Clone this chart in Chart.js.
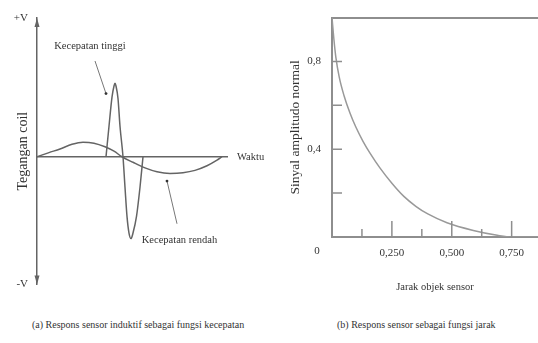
<!DOCTYPE html>
<html>
<head>
<meta charset="utf-8">
<script src="https://cdn.jsdelivr.net/npm/chart.js@4.4.1/dist/chart.umd.min.js"></script>
<style>
  body {
    margin: 0;
    width: 538px;
    height: 343px;
    position: relative;
    overflow: hidden;
    background: #fff;
    font-family: "Liberation Serif", serif;
    color: #333;
  }
  .box { position: absolute; top: 0; height: 300px; }
  #boxA { left: 0; width: 270px; }
  #boxB { left: 270px; width: 268px; }
  .caption { position: absolute; top: 319px; font-size: 10px; white-space: nowrap; }
  #capA { left: 32px; }
  #capB { left: 337px; }
</style>
</head>
<body>
<div class="box" id="boxA"><canvas id="chartA"></canvas></div>
<div class="box" id="boxB"><canvas id="chartB"></canvas></div>
<div class="caption" id="capA">(a) Respons sensor induktif sebagai fungsi kecepatan</div>
<div class="caption" id="capB">(b) Respons sensor sebagai fungsi jarak</div>

<script>
"use strict";

// (a) coil voltage against time, two object speeds
const lowTime = [0, 12, 23, 35, 46, 57, 68, 77, 85, 96, 108, 120, 133, 146, 158, 170, 180, 185];
const lowVolt = [0, 0.03, 0.056, 0.09, 0.105, 0.098, 0.072, 0.04, 0, -0.04, -0.08, -0.108, -0.12, -0.115, -0.098, -0.065, -0.025, 0];
const highTime = [69, 72, 75, 77, 78, 79, 81, 83, 86, 88, 90, 92, 94, 96, 99.5, 103, 106];
const highVolt = [0, 0.22, 0.43, 0.51, 0.53, 0.51, 0.42, 0.22, 0, -0.22, -0.43, -0.55, -0.59, -0.55, -0.43, -0.22, 0];
const voltLabels = ["-V", "+V"];

// (b) normalised amplitude against object distance
const distance = [0, 0.008, 0.016, 0.03, 0.05, 0.075, 0.1, 0.13, 0.16, 0.2, 0.25, 0.3, 0.35, 0.4, 0.48, 0.59, 0.69, 0.75, 0.86];
const amplitude = [1.0, 0.9, 0.82, 0.73, 0.645, 0.565, 0.5, 0.435, 0.38, 0.315, 0.245, 0.185, 0.14, 0.105, 0.065, 0.03, 0.008, 0, 0];
const distTicks = [0, 0.125, 0.25, 0.375, 0.5, 0.625, 0.75];
const distLabels = ["0", "", "0,250", "", "0,500", "", "0,750"];
const ampTicks = [0.2, 0.4, 0.6, 0.8];
const ampLabels = ["", "0,4", "", "0,8"];

const serif = "'Liberation Serif', 'Times New Roman', serif";
const inkA = "#646464";
const inkB = "#8e8e8e";
const textColor = "#333";

function callout(ctx, x, y, text, at, from, to) {
  ctx.textAlign = "center";
  ctx.textBaseline = "middle";
  ctx.fillText(text, x.getPixelForValue(at[0]), y.getPixelForValue(at[1]));
  const x2 = x.getPixelForValue(to[0]);
  const y2 = y.getPixelForValue(to[1]);
  ctx.beginPath();
  ctx.moveTo(x.getPixelForValue(from[0]), y.getPixelForValue(from[1]));
  ctx.lineTo(x2, y2);
  ctx.stroke();
  ctx.beginPath();
  ctx.arc(x2, y2, 1.4, 0, Math.PI * 2);
  ctx.fill();
}

//arrows, axis name and callouts for chart (a)
const coilExtras = {
  id: "coilExtras",
  afterDraw(chart) {
    const { ctx, chartArea: a, scales: { x, y } } = chart;
    ctx.save();
    ctx.fillStyle = inkA;
    [[a.top, -1], [a.bottom, 1]].forEach(([tip, dir]) => {
      ctx.beginPath();
      ctx.moveTo(a.left, tip);
      ctx.lineTo(a.left - 2.5, tip - dir * 9);
      ctx.lineTo(a.left + 2.5, tip - dir * 9);
      ctx.closePath();
      ctx.fill();
    });

    ctx.fillStyle = textColor;
    ctx.strokeStyle = "#777";
    ctx.lineWidth = 1;
    ctx.font = "10.5px " + serif;
    ctx.textAlign = "left";
    ctx.textBaseline = "middle";
    ctx.fillText("Waktu", a.right + 10, y.getPixelForValue(0));

    callout(ctx, x, y, "Kecepatan tinggi", [53, 0.8], [58, 0.69], [69, 0.455]);
    callout(ctx, x, y, "Kecepatan rendah", [142.5, -0.6], [140, -0.483], [130, -0.175]);
    ctx.restore();
  },
};

// inward tick marks for chart (b)
const distanceExtras = {
  id: "distanceExtras",
  afterDraw(chart) {
    const { ctx, scales: { x, y } } = chart;
    ctx.save();
    ctx.strokeStyle = inkB;
    ctx.lineWidth = 1.5;
    ctx.beginPath();
    x.ticks.forEach((t, i) => {
      if (t.value === 0) return;
      const px = x.getPixelForValue(t.value);
      const len = distLabels[i] ? 16 : 8;
      ctx.moveTo(px, x.top);
      ctx.lineTo(px, x.top - len);
    });
    y.ticks.forEach((t) => {
      const py = y.getPixelForValue(t.value);
      ctx.moveTo(y.right, py);
      ctx.lineTo(y.right + 10, py);
    });
    ctx.stroke();

    // origin label sits left of the axis in the original
    ctx.fillStyle = textColor;
    ctx.font = "11px " + serif;
    ctx.textAlign = "center";
    ctx.textBaseline = "top";
    ctx.fillText(distLabels[0], x.getPixelForValue(0) - 15, x.top + 9);
    ctx.restore();
  },
};

// Chart (a)
new Chart(document.getElementById("chartA"), {
  type: "line",
  data: {
    datasets: [
      {
        label: "Kecepatan tinggi",
        data: highTime.map((t, i) => ({ x: t, y: highVolt[i] })),
        borderColor: inkA,
        borderWidth: 1.5,
        cubicInterpolationMode: "monotone",
        pointRadius: 0,
        fill: false,
      },
      {
        label: "Kecepatan rendah",
        data: lowTime.map((t, i) => ({ x: t, y: lowVolt[i] })),
        borderColor: inkA,
        borderWidth: 1.5,
        cubicInterpolationMode: "monotone",
        pointRadius: 0,
        fill: false,
      },
    ],
  },
  options: {
    responsive: true,
    maintainAspectRatio: false,
    animation: false,
    layout: { padding: { top: 18, bottom: 8, right: 43, left: 0 } },
    plugins: {
      legend: { display: false },
      tooltip: { enabled: false },
    },
    scales: {
      x: {
        type: "linear",
        min: 0,
        max: 190,
        position: { y: 0 },
        grid: { display: false, drawTicks: false },
        ticks: { display: false },
        border: { color: inkA, width: 1.5 },
        afterFit: (s) => {
          s.height = 0;
        },
      },
      y: {
        min: -0.92,
        max: 1,
        grid: { display: false, drawTicks: false },
        border: { color: inkA, width: 1.5 },
        afterBuildTicks: (s) => {
          s.ticks = [{ value: s.min }, { value: s.max }];
        },
        ticks: {
          callback: (v, i) => voltLabels[i],
          color: textColor,
          font: { family: serif, size: 11 },
          padding: 9,
        },
        title: {
          display: true,
          text: "Tegangan coil",
          color: textColor,
          font: { family: serif, size: 14 },
          padding: { top: 14.6, bottom: 0 },
        },
        afterFit: (s) => {
          s.width = 37;
        },
      },
    },
  },
  plugins: [coilExtras],
});

// Chart (b)
new Chart(document.getElementById("chartB"), {
  type: "line",
  data: {
    datasets: [
      {
        label: "Sinyal amplitudo normal",
        data: distance.map((d, i) => ({ x: d, y: amplitude[i] })),
        borderColor: "#999",
        borderWidth: 1.5,
        cubicInterpolationMode: "monotone",
        pointRadius: 0,
        fill: false,
      },
    ],
  },
  options: {
    responsive: true,
    maintainAspectRatio: false,
    animation: false,
    layout: { padding: 0 },
    plugins: {
      legend: { display: false },
      tooltip: { enabled: false },
    },
    scales: {
      x: {
        type: "linear",
        position: "bottom",
        min: 0,
        max: 0.86,
        afterBuildTicks: (s) => {
          s.ticks = distTicks.map((v) => ({ value: v }));
        },
        grid: { display: false, drawTicks: false },
        border: { color: inkB, width: 2 },
        ticks: {
          callback: (v, i) => (i === 0 ? "" : distLabels[i]),
          autoSkip: false,
          maxRotation: 0,
          color: textColor,
          font: { family: serif, size: 11 },
          padding: 10,
        },
        title: {
          display: true,
          text: "Jarak objek sensor",
          color: textColor,
          font: { family: serif, size: 10.5 },
          padding: { top: 0, bottom: 6 },
        },
        afterFit: (s) => {
          s.height = 63;
        },
      },
      xTop: {
        type: "linear",
        axis: "x",
        position: "top",
        min: 0,
        max: 0.86,
        grid: { display: false, drawTicks: false },
        ticks: { display: false },
        border: { color: inkB, width: 2 },
        afterFit: (s) => {
          s.height = 17;
        },
      },
      y: {
        min: 0,
        max: 1,
        afterBuildTicks: (s) => {
          s.ticks = ampTicks.map((v) => ({ value: v }));
        },
        grid: { display: false, drawTicks: false },
        border: { color: inkB, width: 2 },
        ticks: {
          callback: (v, i) => ampLabels[i],
          color: textColor,
          font: { family: serif, size: 11 },
          padding: 11,
        },
        title: {
          display: true,
          text: "Sinyal amplitudo normal",
          color: textColor,
          font: { family: serif, size: 13.5 },
          padding: { top: 17, bottom: 0 },
        },
        afterFit: (s) => {
          s.width = 62;
        },
      },
    },
  },
  plugins: [distanceExtras],
});
</script>
</body>
</html>
